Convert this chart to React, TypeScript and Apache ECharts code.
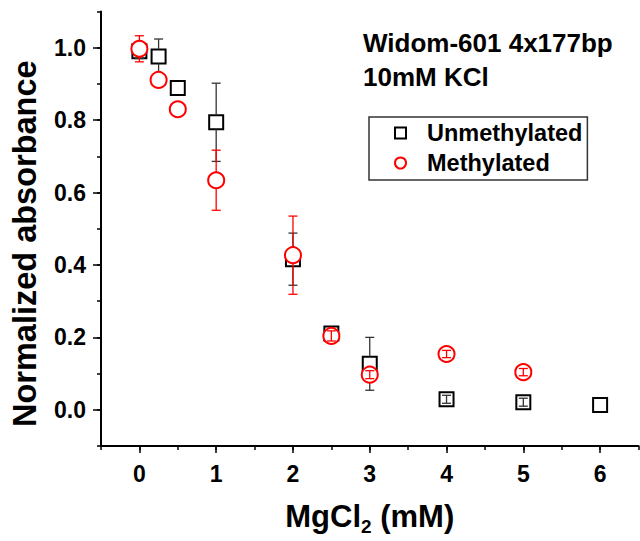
import React, { useEffect, useRef } from "react";
import * as echarts from "echarts";

const xUnmeth = [0, 0.25, 0.5, 1, 2, 2.5, 3, 4, 5, 6];
const yUnmeth = [0.99, 0.976, 0.889, 0.794, 0.416, 0.211, 0.127, 0.029, 0.021, 0.013];
const eUnmeth = [0.02, 0.048, 0, 0.108, 0.072, 0.008, 0.073, 0.011, 0.011, 0];

const xMeth = [0, 0.25, 0.5, 1, 2, 2.5, 3, 4, 5];
const yMeth = [0.997, 0.911, 0.83, 0.634, 0.427, 0.204, 0.097, 0.154, 0.104];
const eMeth = [0.036, 0, 0, 0.083, 0.108, 0.014, 0.011, 0.01, 0.01];

const xMajorTicks = [0, 1, 2, 3, 4, 5, 6];
const yMajorTicks = [0, 0.2, 0.4, 0.6, 0.8, 1.0];

const FONT = "'Liberation Sans', Arial, sans-serif";

function errRenderer(color: string, half: number) {
  return (params: any, api: any) => {
    const x = api.value(0);
    const y = api.value(1);
    const e = api.value(2);
    if (!e) return { type: "group", children: [] };
    const c = api.coord([x, y]);
    const t = api.coord([x, y + e]);
    const b = api.coord([x, y - e]);
    const cap = 4.5;
    const style = { stroke: color, lineWidth: 1.3 };
    const children: any[] = [];
    if (c[1] - t[1] > half) {
      children.push({ type: "line", shape: { x1: c[0], y1: c[1] - half, x2: c[0], y2: t[1] }, style });
      children.push({ type: "line", shape: { x1: c[0], y1: c[1] + half, x2: c[0], y2: b[1] }, style });
    } else {
      children.push({ type: "line", shape: { x1: c[0], y1: t[1], x2: c[0], y2: b[1] }, style });
    }
    children.push({ type: "line", shape: { x1: c[0] - cap, y1: t[1], x2: c[0] + cap, y2: t[1] }, style });
    children.push({ type: "line", shape: { x1: c[0] - cap, y1: b[1], x2: c[0] + cap, y2: b[1] }, style });
    return { type: "group", children };
  };
}

export default function App() {
  const ref = useRef<HTMLDivElement>(null);
  useEffect(() => {
    document.body.style.margin = "0";
    const chart = echarts.init(ref.current!, null, { renderer: "svg" });
    const uData = xUnmeth.map((x, i) => [x, yUnmeth[i]]);
    const mData = xMeth.map((x, i) => [x, yMeth[i]]);
    const uErr = xUnmeth.map((x, i) => [x, yUnmeth[i], eUnmeth[i]]);
    const mErr = xMeth.map((x, i) => [x, yMeth[i], eMeth[i]]);
    const axisLine = { show: true, onZero: false, lineStyle: { color: "#000", width: 2 } };
    const hiddenLine = { show: false, onZero: false };
    chart.setOption({
      animation: false,
      backgroundColor: "#fff",
      title: {
        text: "Widom-601 4x177bp\n10mM KCl",
        left: 363,
        top: 26,
        padding: 0,
        textStyle: { fontFamily: FONT, fontSize: 26, fontWeight: "bold", lineHeight: 34, color: "#000" },
      },
      legend: {
        left: 369,
        top: 117,
        orient: "vertical",
        borderColor: "#333",
        borderWidth: 1.5,
        padding: [4, 5, 5, 25],
        itemGap: 6,
        itemWidth: 11,
        itemHeight: 11,
        textStyle: { fontFamily: FONT, fontSize: 23.5, fontWeight: "bold", color: "#000", lineHeight: 23, padding: [0, 0, 0, 16] },
        data: [
          { name: "Unmethylated", icon: "rect", itemStyle: { color: "#fff", borderColor: "#000", borderWidth: 2 } },
          { name: "Methylated", icon: "circle", itemStyle: { color: "#fff", borderColor: "#ff0000", borderWidth: 2 } },
        ],
      },
      grid: { left: 99.5, top: 11.5, width: 539, height: 438, containLabel: false },
      xAxis: [
        {
          type: "value",
          min: -0.5,
          max: 6.5,
          name: "{a|MgCl}{s|2}{a| (mM)}",
          nameLocation: "middle",
          nameGap: 57,
          nameTextStyle: {
            rich: {
              a: { fontFamily: FONT, fontSize: 31, fontWeight: "bold", color: "#000", lineHeight: 31, padding: [0, 0, 4, 0] },
              s: { fontFamily: FONT, fontSize: 19, fontWeight: "bold", color: "#000", lineHeight: 19, padding: [16, 0, 0, 0] },
            },
          },
          axisLine,
          splitLine: { show: false },
          axisTick: { show: true, customValues: xMajorTicks, length: 7, lineStyle: { color: "#000", width: 1.5 } },
          axisLabel: {
            customValues: xMajorTicks,
            margin: 16,
            fontFamily: FONT,
            fontSize: 23,
            fontWeight: "bold",
            color: "#000",
          },
        },
        {
          type: "value",
          min: -0.5,
          max: 6.5,
          interval: 0.5,
          position: "bottom",
          axisLine: hiddenLine,
          splitLine: { show: false },
          axisTick: { show: true, length: 4, lineStyle: { color: "#000", width: 1.5 } },
          axisLabel: { show: false },
        },
      ],
      yAxis: [
        {
          type: "value",
          min: -0.1,
          max: 1.1,
          name: "Normalized absorbance",
          nameLocation: "middle",
          nameGap: 60,
          nameTextStyle: { fontFamily: FONT, fontSize: 32.5, fontWeight: "bold", color: "#000", padding: [0, 30, 0, 0] },
          axisLine,
          splitLine: { show: false },
          axisTick: { show: true, customValues: yMajorTicks, length: 8, lineStyle: { color: "#000", width: 1.5 } },
          axisLabel: {
            customValues: yMajorTicks,
            margin: 15,
            fontFamily: FONT,
            fontSize: 23,
            fontWeight: "bold",
            color: "#000",
            formatter: (v: number) => v.toFixed(1),
          },
        },
        {
          type: "value",
          min: -0.1,
          max: 1.1,
          interval: 0.1,
          position: "left",
          axisLine: hiddenLine,
          splitLine: { show: false },
          axisTick: { show: true, length: 4, lineStyle: { color: "#000", width: 1.5 } },
          axisLabel: { show: false },
        },
      ],
      series: [
        {
          name: "Unmethylated",
          type: "scatter",
          data: uData,
          symbol: "rect",
          symbolSize: 14,
          z: 2,
          itemStyle: { color: "#fff", borderColor: "#000", borderWidth: 2, opacity: 1 },
        },
        {
          name: "errU",
          type: "custom",
          data: uErr,
          z: 3,
          renderItem: errRenderer("#333", 7),
          encode: { x: 0, y: 1 },
        },
        {
          name: "Methylated",
          type: "scatter",
          data: mData,
          symbol: "circle",
          symbolSize: 16,
          z: 4,
          itemStyle: { color: "#fff", borderColor: "#ff0000", borderWidth: 2, opacity: 1 },
        },
        {
          name: "errM",
          type: "custom",
          data: mErr,
          z: 5,
          renderItem: errRenderer("#ff0000", 8),
          encode: { x: 0, y: 1 },
        },
      ],
    });
    return () => chart.dispose();
  }, []);
  return <div ref={ref} style={{ position: "absolute", left: 0, top: 0, width: 640, height: 541 }} />;
}
